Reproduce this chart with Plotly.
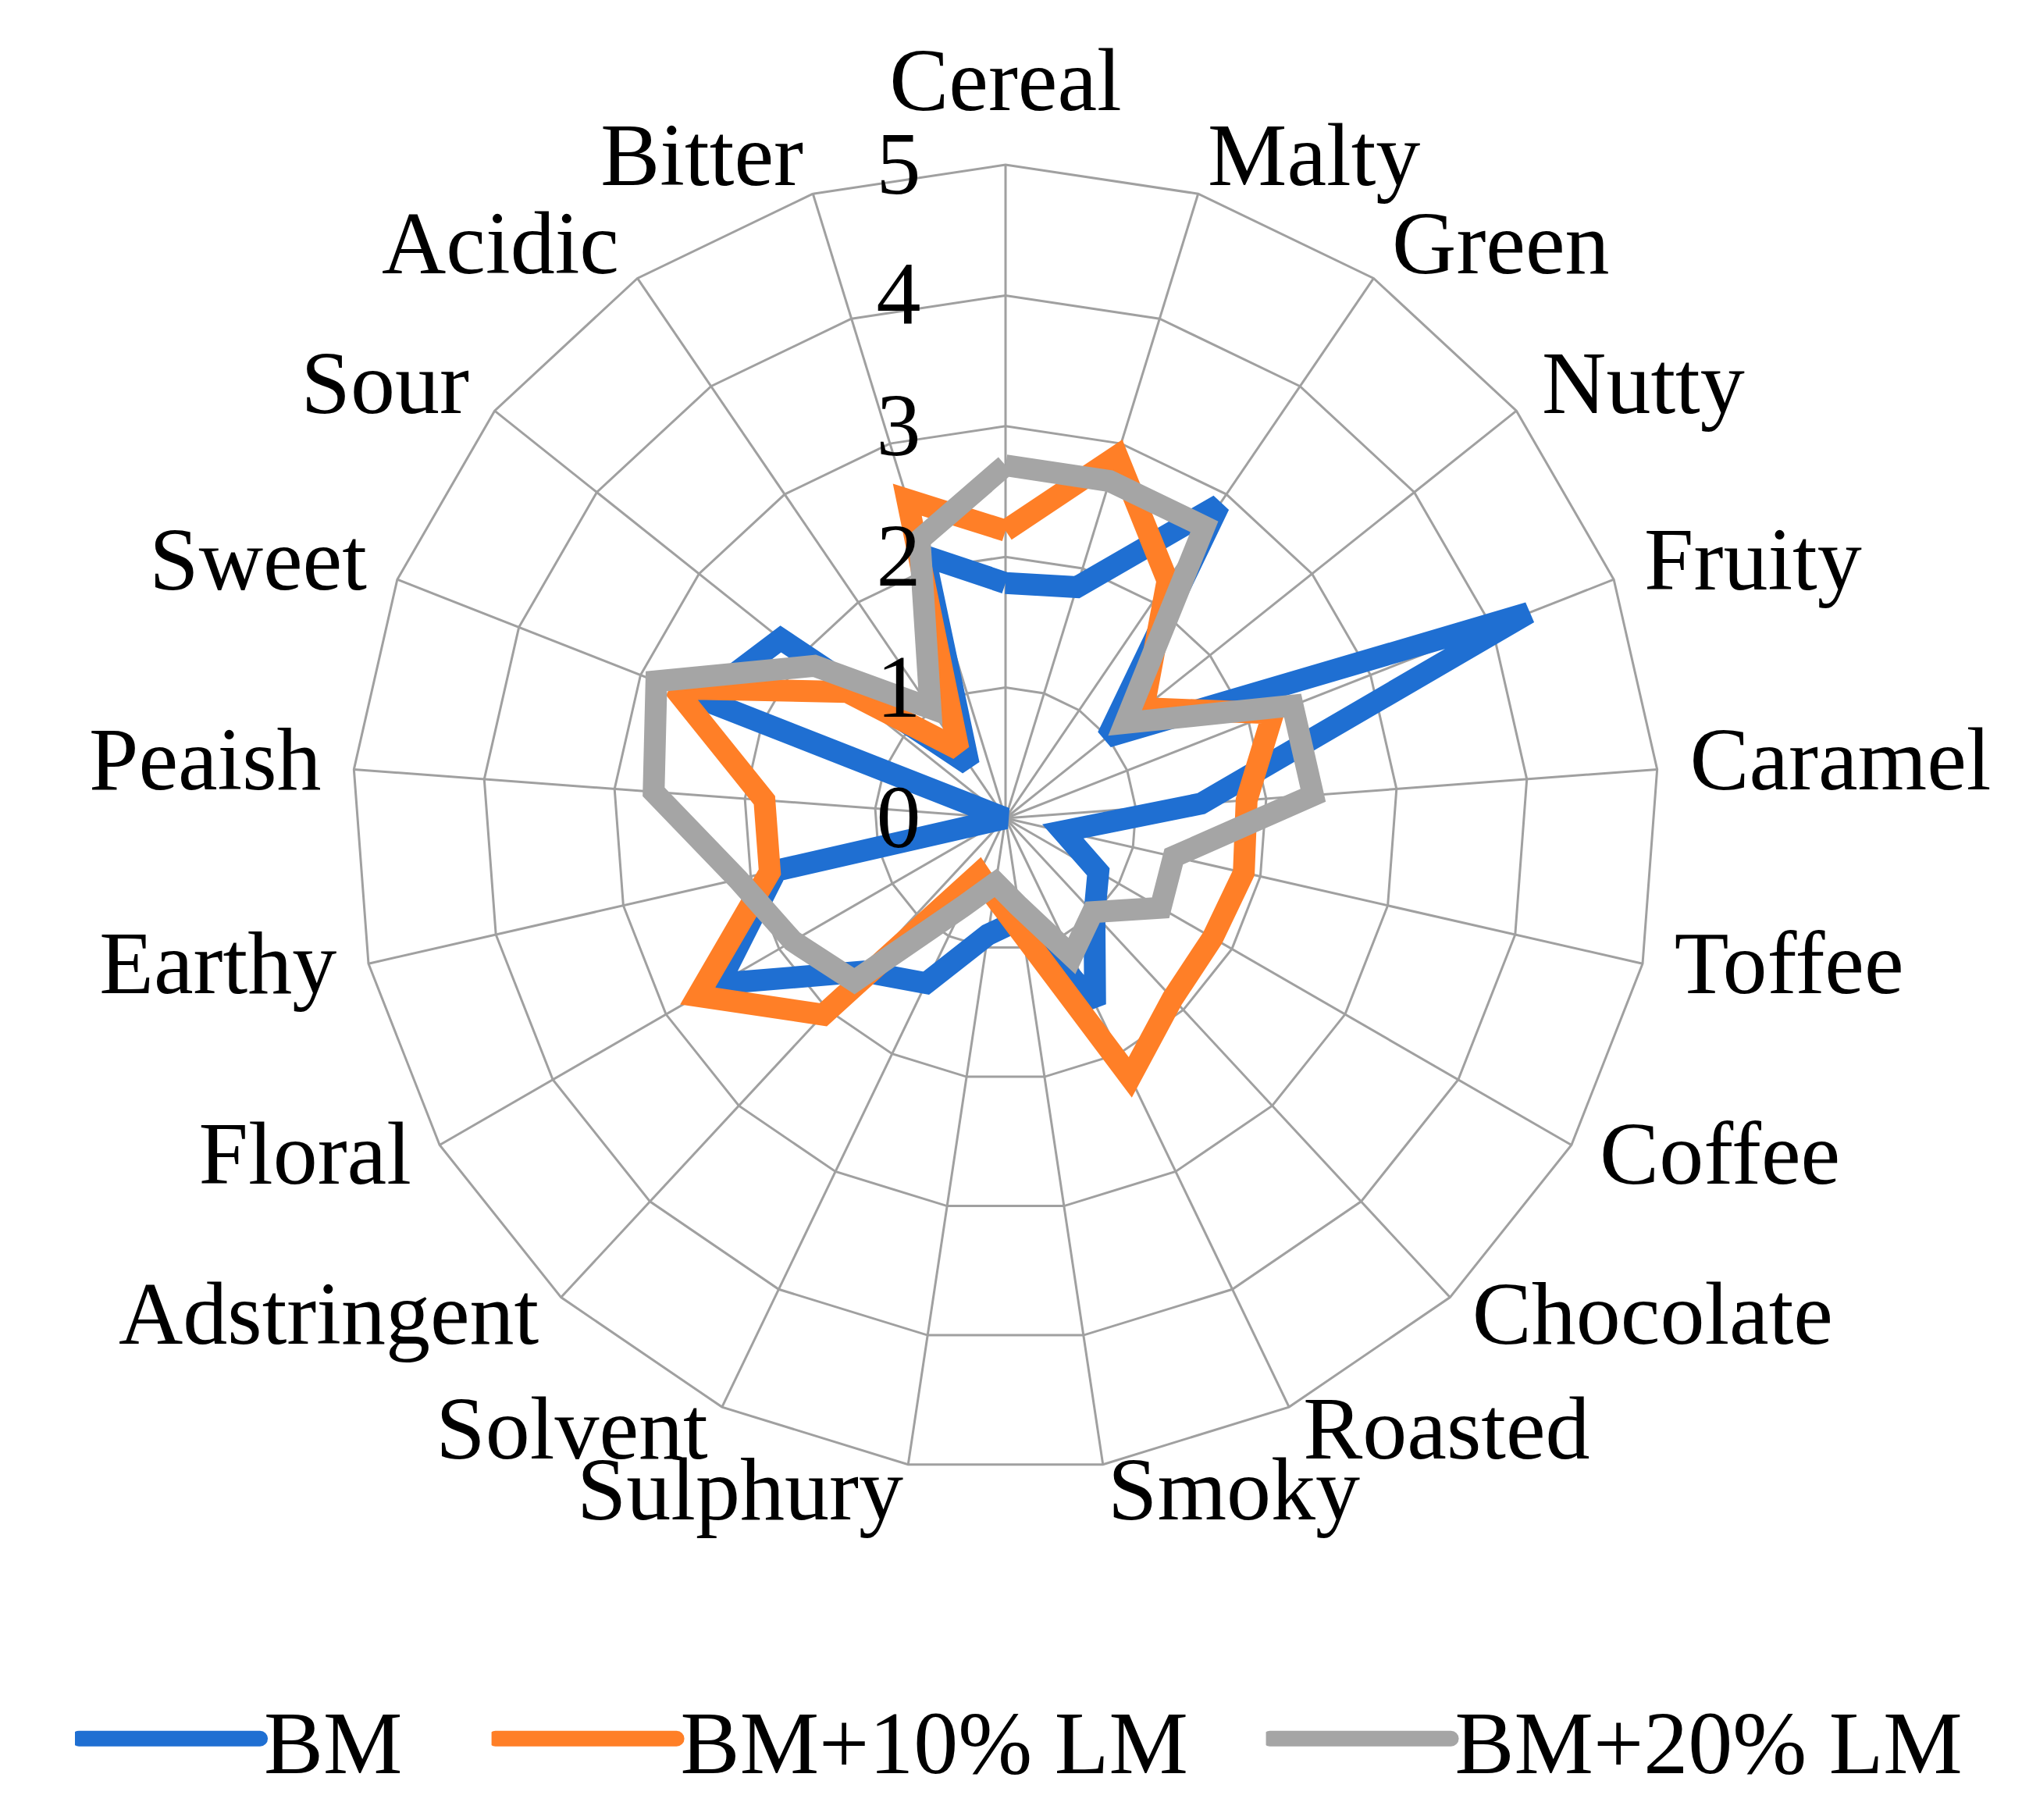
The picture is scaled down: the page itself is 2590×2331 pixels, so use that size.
import plotly.graph_objects as go

# sensory attributes, clockwise from the top
attributes = ["Cereal", "Malty", "Green", "Nutty", "Fruity", "Caramel", "Toffee",
              "Coffee", "Chocolate", "Roasted", "Smoky", "Sulphury", "Solvent",
              "Adstringent", "Floral", "Earthy", "Peaish", "Sweet", "Sour",
              "Acidic", "Bitter"]

bm = [1.8, 1.85, 2.9, 1.0, 4.3, 1.5, 0.45, 0.82, 1.0, 1.58, 0.78, 0.9, 1.4,
      1.6, 2.53, 1.8, 0.0, 2.5, 2.2, 0.5, 2.1]
bm_10_lm = [2.2, 2.9, 2.2, 1.35, 2.2, 1.85, 1.87, 1.83, 1.88, 2.2, 0.9, 0.6,
            0.47, 2.05, 2.72, 1.85, 1.85, 2.72, 1.55, 0.64, 2.55]
bm_20_lm = [2.7, 2.7, 2.7, 1.17, 2.36, 2.36, 1.32, 1.37, 0.98, 1.17, 0.68, 0.5,
            0.75, 1.7, 1.88, 2.1, 2.7, 2.87, 1.87, 1.02, 2.23]

series = [("BM", bm, "#1f6fd2"),
          ("BM+10% LM", bm_10_lm, "#ff7f27"),
          ("BM+20% LM", bm_20_lm, "#a5a5a5")]

radial_ticks = [0, 1, 2, 3, 4, 5]

W, H = 2590, 2331
cx, cy, R = 1280, 1040, 837
R_LAB = R * 1.05          # labels sit just outside the outer ring
FONT = "Liberation Serif"
FS = 114
GRID = "#a0a0a0"


def domain(radius):
    return dict(x=[(cx - radius) / W, (cx + radius) / W],
                y=[1 - (cy + radius) / H, 1 - (cy - radius) / H])


fig = go.Figure()
for i, (name, vals, color) in enumerate(series):
    fig.add_trace(go.Scatterpolar(
        r=vals + vals[:1],
        theta=attributes + attributes[:1],
        mode="lines",
        name=name,
        line=dict(color=color, width=28),
        legend="legend" if i == 0 else f"legend{i + 1}",
    ))

# category labels, Excel style, on a hidden polar that is slightly larger
n = len(attributes)
positions = []
for k in range(n):
    ang = k * 360 / n
    if ang == 0:
        positions.append("top center")
    elif ang < 180:
        positions.append("middle right")
    else:
        positions.append("middle left")

fig.add_trace(go.Scatterpolar(
    r=[5] * n, theta=attributes, mode="text", text=attributes,
    textposition=positions, textfont=dict(family=FONT, size=FS, color="black"),
    cliponaxis=False, showlegend=False, hoverinfo="skip", subplot="polar2",
))

legend_style = dict(orientation="h", y=0.048, yanchor="middle", xanchor="left",
                    font=dict(family=FONT, size=FS), itemwidth=232,
                    bgcolor="rgba(0,0,0,0)")

hidden_axis = dict(visible=False, showgrid=False, showline=False,
                   showticklabels=False, ticks="")

fig.update_layout(
    width=W, height=H,
    margin=dict(l=0, r=0, t=0, b=0),
    paper_bgcolor="white",
    plot_bgcolor="white",
    font=dict(family=FONT, size=FS, color="black"),
    polar=dict(
        domain=domain(R),
        gridshape="linear",
        bgcolor="white",
        angularaxis=dict(
            rotation=90, direction="clockwise",
            gridcolor=GRID, gridwidth=3,
            showline=True, linecolor=GRID, linewidth=3,
            showticklabels=False, ticks="",
        ),
        radialaxis=dict(
            range=[0, 5], tickvals=radial_ticks, angle=90,
            side="counterclockwise", tickangle=90,
            showline=False, gridcolor=GRID, gridwidth=3,
            ticks="outside", ticklen=68, tickcolor="rgba(0,0,0,0)",
            tickfont=dict(family=FONT, size=FS),
        ),
    ),
    polar2=dict(
        domain=domain(R_LAB),
        gridshape="linear",
        bgcolor="rgba(0,0,0,0)",
        angularaxis=dict(hidden_axis, rotation=90, direction="clockwise"),
        radialaxis=dict(hidden_axis, range=[0, 5]),
    ),
    legend=dict(legend_style, x=0.034),
    legend2=dict(legend_style, x=0.240),
    legend3=dict(legend_style, x=0.623),
)

# plotly caps the legend line width, thicken the swatches after drawing
thick_legend = """
var gd = document.getElementById('{plot_id}');
function thick() {
  gd.querySelectorAll('.legendlines path').forEach(function(p) {
    p.style.strokeWidth = '20px';
    p.style.strokeLinecap = 'round';
  });
}
thick();
gd.on('plotly_afterplot', thick);
"""

fig.write_html("out.html", post_script=thick_legend)
